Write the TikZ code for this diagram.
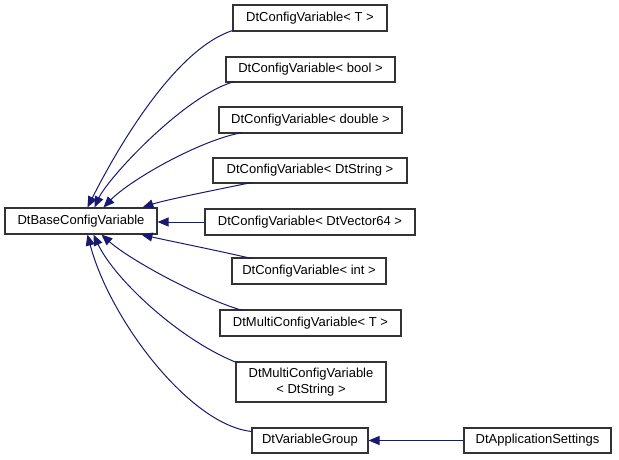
\documentclass[tikz,border=0pt]{standalone}
\usepackage{fontspec}
\setmainfont{Liberation Sans}
\usetikzlibrary{arrows.meta,calc}
\definecolor{edgeblue}{HTML}{191970}
\begin{document}
\begin{tikzpicture}[x=1pt,y=-1pt,
  cls/.style={draw=black!80, line width=1.1pt, fill=white, inner sep=0pt,
    font=\fontsize{13}{16}\selectfont, align=center},
  inh/.style={draw=edgeblue, line width=1pt, -{Triangle[length=11pt,width=9pt]}}]
\useasboundingbox (0,0) rectangle (619,459);
\fill[white] (0,0) rectangle (619,459);

\node[cls, minimum width=152pt, minimum height=26pt] (base) at (81,221) {DtBaseConfigVariable};
\node[cls, minimum width=154pt, minimum height=26pt] (cT) at (310,18) {DtConfigVariable< T >};
\node[cls, minimum width=169pt, minimum height=25pt] (cBool) at (310.5,69.5) {DtConfigVariable< bool >};
\node[cls, minimum width=183pt, minimum height=26pt] (cDouble) at (310.5,120) {DtConfigVariable< double >};
\node[cls, minimum width=194pt, minimum height=25pt] (cString) at (310,170.5) {DtConfigVariable< DtString >};
\node[cls, minimum width=210pt, minimum height=26pt] (cVec) at (310,222) {DtConfigVariable< DtVector64 >};
\node[cls, minimum width=154pt, minimum height=26pt] (cInt) at (309,271) {DtConfigVariable< int >};
\node[cls, minimum width=181pt, minimum height=26pt] (cMT) at (310.5,323) {DtMultiConfigVariable< T >};
\node[cls, minimum width=150pt, minimum height=40pt] (cMS) at (311,382) {DtMultiConfigVariable\\< DtString >};
\node[cls, minimum width=116pt, minimum height=25pt] (cVG) at (310,440.5) {DtVariableGroup};
\node[cls, minimum width=147pt, minimum height=25pt] (app) at (537.5,440.5) {DtApplicationSettings};

\draw[inh] ($(cT.south west)+(0,-1)$) .. controls (173,50) and (115,153) .. ($(base.north west)+(83,0)$);
\draw[inh] ($(cBool.south west)+(9,-1)$) .. controls (185,95) and (108,178) .. ($(base.north west)+(90,0)$);
\draw[inh] ($(cDouble.south west)+(24,-1)$) .. controls (200,140) and (130,180) .. ($(base.north west)+(99,0)$);
\draw[inh] ($(cString.south west)+(39,-1)$) .. controls (215,190) and (165,200) .. ($(base.north west)+(138,0)$);
\draw[inh] (cVec.west) -- (cVec.west -| base.east);
\draw[inh] ($(cInt.north west)+(20,1)$) .. controls (215,250) and (165,240) .. ($(base.south west)+(137,0)$);
\draw[inh] ($(cMT.north west)+(23,1)$) .. controls (200,298) and (130,260) .. ($(base.south west)+(97,0)$);
\draw[inh] ($(cMS.north west)+(1,1)$) .. controls (180,340) and (115,280) .. ($(base.south west)+(89,0)$);
\draw[inh] ($(cVG.north west)+(0,4)$) .. controls (190,425) and (110,320) .. ($(base.south west)+(83,0)$);
\draw[inh] (app.west) -- (cVG.east);
\end{tikzpicture}
\end{document}
